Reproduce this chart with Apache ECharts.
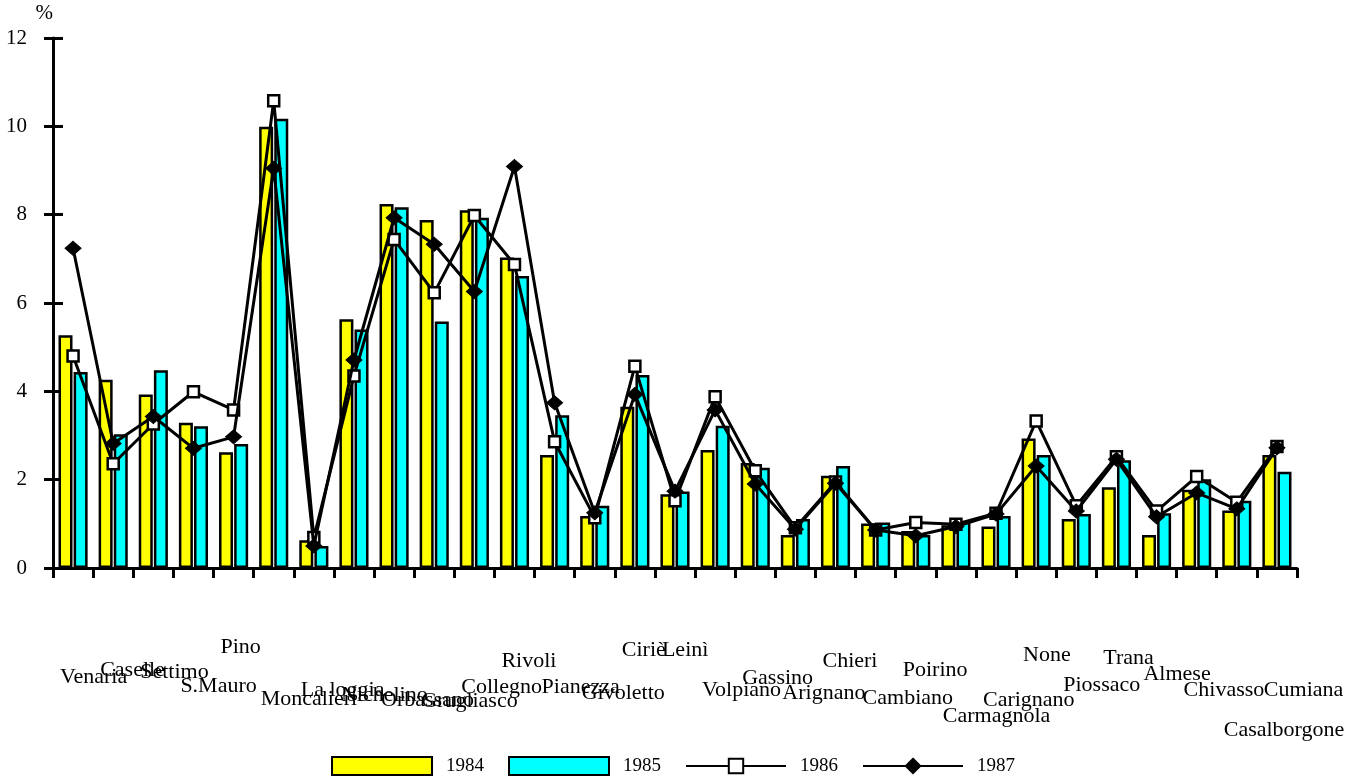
<!DOCTYPE html>
<html><head><meta charset="utf-8">
<script src="https://cdn.jsdelivr.net/npm/echarts@6/dist/echarts.min.js"></script>
<style>html,body{margin:0;padding:0;background:#fff}#c{width:1347px;height:776px}</style>
</head><body><div id="c"></div>
<script>
const categories = ['Venaria','Caselle','Settimo','S.Mauro','Pino','Moncalieri','La loggia','Nichelino','Orbassano','Grugliasco','Collegno','Rivoli','Pianezza','Givoletto','Ciriè','Leinì','Volpiano','Gassino','Arignano','Chieri','Cambiano','Poirino','Carmagnola','Carignano','None','Piossaco','Trana','Almese','Chivasso','Casalborgone','Cumiana'];
const v1984 = [5.27,4.26,3.93,3.29,2.62,9.99,0.63,5.63,8.24,7.88,8.10,7.03,2.56,1.18,3.65,1.67,2.67,2.38,0.75,2.09,1.01,0.84,0.97,0.94,2.93,1.11,1.83,0.75,1.77,1.30,2.56];
const v1985 = [4.44,3.03,4.48,3.21,2.81,10.17,0.50,5.40,8.17,5.58,7.93,6.61,3.46,1.41,4.37,1.73,3.22,2.27,1.11,2.31,1.03,0.75,1.05,1.18,2.56,1.22,2.44,1.24,2.01,1.52,2.18];
const v1986 = [4.80,2.36,3.26,3.99,3.58,10.58,0.69,4.35,7.44,6.23,7.98,6.87,2.86,1.14,4.57,1.52,3.88,2.20,0.91,1.95,0.86,1.03,0.99,1.24,3.33,1.41,2.52,1.29,2.07,1.49,2.75];
const v1987 = [7.24,2.82,3.43,2.71,2.97,9.05,0.50,4.71,7.93,7.33,6.26,9.09,3.74,1.25,3.93,1.74,3.58,1.90,0.88,1.92,0.86,0.73,0.94,1.22,2.31,1.29,2.46,1.16,1.70,1.34,2.72];
const seriesNames = ['1984','1985','1986','1987'];

// layout only: baseline drop (px) of each category label below the axis
const labelDrop = [116,109,111,125,86,138,129,134,139,140,126,100,126,132,89,89,129,117,132,100,137,109,155,139,94,124,97,113,129,169,129];

const FONT = 'Liberation Serif';
const chart = echarts.init(document.getElementById('c'));
chart.setOption({
  animation: false,
  backgroundColor: '#fff',
  grid: { left: 53, right: 50, top: 38, bottom: 208, containLabel: false },
  legend: {
    data: [
      { name: seriesNames[0], icon: 'rect' },
      { name: seriesNames[1], icon: 'rect' },
      { name: seriesNames[2] },
      { name: seriesNames[3] }
    ],
    left: 326, top: 751,
    itemWidth: 100, itemHeight: 18, itemGap: 24,
    textStyle: { fontFamily: FONT, fontSize: 19, color: '#000', padding: [3,0,0,9] }
  },
  xAxis: {
    type: 'category', data: categories,
    axisLine: { show: true, lineStyle: { color: '#000', width: 3 } },
    axisTick: { show: true, interval: 0, length: 10, lineStyle: { color: '#000', width: 3 } },
    axisLabel: { show: false, interval: 0 },
    splitLine: { show: false }
  },
  yAxis: [{
    type: 'value', min: 0, max: 12, interval: 2,
    name: '%', nameLocation: 'end', nameGap: 14,
    nameTextStyle: { fontFamily: FONT, fontSize: 21, color: '#000', align: 'right', verticalAlign: 'bottom' },
    axisLine: { show: true, lineStyle: { color: '#000', width: 3 } },
    axisTick: { show: true, length: 9, lineStyle: { color: '#000', width: 3 } },
    axisLabel: { fontFamily: FONT, fontSize: 21, color: '#000', margin: 26 },
    splitLine: { show: false }
  }, {
    type: 'value', min: 0, max: 12, interval: 2, position: 'left',
    axisLine: { show: false },
    axisTick: { show: true, inside: true, length: 10, lineStyle: { color: '#000', width: 3 } },
    axisLabel: { show: false },
    splitLine: { show: false }
  }],
  series: [
    { name: '1984', type: 'bar', data: v1984, barWidth: 14, barGap: '8%',
      itemStyle: { color: '#ffff00', borderColor: '#000', borderWidth: 2.5 } },
    { name: '1985', type: 'bar', data: v1985, barWidth: 14, barGap: '8%',
      itemStyle: { color: '#00ffff', borderColor: '#000', borderWidth: 2.5 } },
    { name: '1986', type: 'line', data: v1986, symbol: 'rect', symbolSize: 11, z: 3,
      lineStyle: { color: '#000', width: 3 },
      itemStyle: { color: '#fff', borderColor: '#000', borderWidth: 2.5 } },
    { name: '1987', type: 'line', data: v1987, symbol: 'diamond', symbolSize: [16, 14], z: 4,
      lineStyle: { color: '#000', width: 3 },
      itemStyle: { color: '#000', borderColor: '#000', borderWidth: 1 } },
    { name: 'labels', type: 'custom', silent: true, clip: false, z: 5,
      data: categories.map((c, i) => [i]),
      encode: { x: 0 },
      renderItem: function (params, api) {
        const i = api.value(0);
        const p = api.coord([i, 0]);
        const bw = api.size([1, 0])[0];
        return {
          type: 'text',
          x: p[0] - bw / 2 + 7,
          y: p[1] + labelDrop[i] - 7,
          style: { text: categories[i], font: '22px "' + FONT + '"', fill: '#000', align: 'left', verticalAlign: 'middle' }
        };
      }
    }
  ]
});
</script>
</body></html>
